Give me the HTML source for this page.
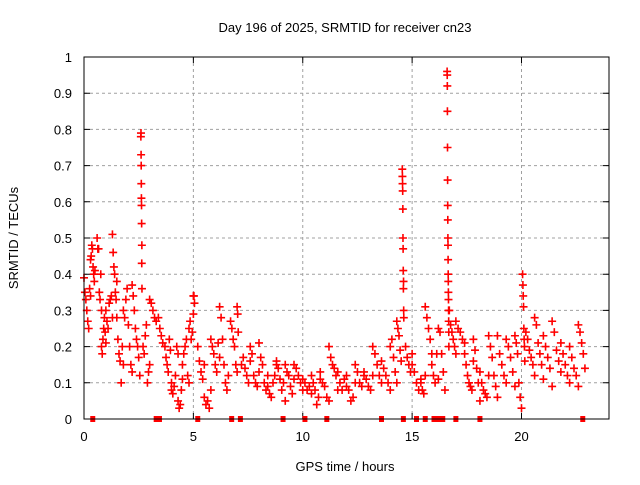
<!DOCTYPE html>
<html><head><meta charset="utf-8"><style>
body{margin:0;background:#fff}
svg text{font-family:"Liberation Sans",sans-serif;font-size:13px;fill:#000}
</style></head><body>
<svg id="chart" width="640" height="480" viewBox="0 0 640 480" xmlns="http://www.w3.org/2000/svg">
<rect width="640" height="480" fill="#fff"/>
<text x="345" y="32" text-anchor="middle">Day 196 of 2025, SRMTID for receiver cn23</text>
<text transform="translate(18,238) rotate(-90)" text-anchor="middle">SRMTID / TECUs</text>
<text x="345" y="471" text-anchor="middle">GPS time / hours</text>
<g id="grid"></g>
<g id="ticks"></g>
<g id="marks"></g>
<rect x="84" y="57" width="525" height="362" fill="none" stroke="#000" stroke-width="1"/>
</svg>
<script>
const xTicks=[0,5,10,15,20];
const yTicks=[0,0.1,0.2,0.3,0.4,0.5,0.6,0.7,0.8,0.9,1];
const yTickLabels=["0","0.1","0.2","0.3","0.4","0.5","0.6","0.7","0.8","0.9","1"];
const clusterStart=[0,0.3,0.6,0.8,1.0,1.3,1.5,1.8,2.2,2.6,2.7,3.0,3.4,3.7,4.0,4.3,4.5,4.8,5.0,5.2,5.5,5.8,6.2,6.7,7.0,7.2,7.6,8.0,8.4,8.8,9.2,9.6,10.0,10.4,10.8,11.2,11.6,12.0,12.4,12.8,13.2,13.6,14.0,14.3,14.55,14.7,15.0,15.4,15.6,15.9,16.2,16.6,16.7,17.0,17.4,17.8,18.1,18.5,18.9,19.3,19.7,20.05,20.2,20.6,21.0,21.4,21.8,22.2,22.6];
const clusterEnd=[0.3,0.5,0.8,1.0,1.3,1.5,1.8,2.2,2.55,2.65,3.0,3.3,3.6,4.0,4.3,4.5,4.8,5.0,5.05,5.5,5.8,6.2,6.6,7.0,7.05,7.6,8.0,8.4,8.8,9.2,9.6,10.0,10.4,10.8,11.2,11.6,12.0,12.4,12.8,13.2,13.6,14.0,14.3,14.5,14.62,15.0,15.4,15.6,15.9,16.2,16.5,16.68,17.0,17.4,17.8,18.1,18.5,18.9,19.3,19.7,20.0,20.15,20.6,21.0,21.4,21.8,22.2,22.6,22.9];
const clusterValues=[
[0.39,0.35,0.33,0.30,0.27,0.25,0.36,0.34],[0.44,0.45,0.48,0.47,0.42,0.40,0.38,0.41],[0.50,0.47,0.47,0.35,0.33,0.40,0.30],
[0.20,0.18,0.22,0.25,0.28,0.24,0.21],[0.30,0.27,0.25,0.32,0.33,0.34,0.28],[0.51,0.46,0.42,0.40,0.35,0.33,0.38],
[0.28,0.22,0.18,0.16,0.10,0.20,0.15],[0.30,0.28,0.33,0.36,0.26,0.20,0.15,0.13],[0.37,0.34,0.30,0.25,0.22,0.20,0.17,0.12],
[0.78,0.79,0.73,0.70,0.65,0.61,0.59,0.54,0.43,0.48,0.36],[0.20,0.18,0.23,0.26,0.10,0.13,0.15],[0.33,0.32,0.30,0.28,0.27],
[0.28,0.25,0.23,0.21],[0.20,0.17,0.15,0.13,0.22,0.19,0.08],[0.10,0.07,0.09,0.12,0.20,0.18],[0.05,0.03,0.04,0.08,0.11],
[0.15,0.18,0.20,0.22,0.12,0.10],[0.25,0.27,0.22,0.24,0.29],[0.34,0.34,0.32],[0.20,0.16,0.13,0.11,0.15],[0.06,0.04,0.05,0.03,0.08],
[0.22,0.20,0.18,0.15,0.13,0.21,0.17],[0.31,0.28,0.22,0.15,0.10,0.08,0.12],[0.27,0.25,0.22,0.20,0.15,0.13],[0.31,0.29,0.24],
[0.15,0.17,0.14,0.12,0.10,0.16],[0.20,0.18,0.12,0.10,0.09,0.13],[0.21,0.17,0.15,0.10,0.08,0.12],[0.09,0.07,0.06,0.10,0.12,0.15],
[0.16,0.14,0.11,0.08,0.10,0.05],[0.15,0.13,0.12,0.09,0.07,0.11],[0.15,0.14,0.12,0.10,0.08],[0.11,0.10,0.08,0.09,0.07],
[0.12,0.10,0.08,0.04,0.06,0.11],[0.13,0.10,0.09,0.06,0.05],[0.20,0.17,0.15,0.14,0.12,0.08],[0.13,0.10,0.08,0.11,0.09],
[0.12,0.08,0.05,0.06,0.10],[0.15,0.13,0.10,0.09,0.12],[0.13,0.11,0.09,0.08,0.12],[0.20,0.18,0.15,0.12,0.10],[0.16,0.14,0.12,0.10,0.08],
[0.20,0.22,0.17,0.13,0.10],[0.27,0.25,0.23,0.19,0.16],[0.69,0.67,0.65,0.63,0.58,0.50,0.47,0.41,0.36,0.38,0.30,0.28],
[0.20,0.17,0.15,0.13,0.18],[0.15,0.13,0.10,0.08,0.11],[0.10,0.08,0.07,0.12],[0.31,0.28,0.25,0.22,0.18],[0.15,0.12,0.10,0.18,0.11],
[0.25,0.24,0.18,0.13,0.08],[0.96,0.95,0.92,0.85,0.75,0.66,0.59,0.55,0.50,0.48,0.44,0.40,0.38,0.35,0.33,0.30,0.27,0.24,0.20],
[0.30,0.26,0.24,0.22,0.20,0.18],[0.27,0.25,0.24,0.22,0.21],[0.18,0.15,0.12,0.10,0.09,0.08,0.16],[0.22,0.19,0.14,0.10,0.05],
[0.13,0.10,0.08,0.07,0.06,0.12],[0.23,0.20,0.17,0.12,0.09,0.06],[0.23,0.18,0.15,0.12,0.10],[0.22,0.20,0.17,0.13,0.09],
[0.23,0.21,0.18,0.10,0.06,0.03],[0.40,0.37,0.34,0.31,0.25,0.22,0.20,0.16],[0.24,0.22,0.19,0.17,0.15,0.12],[0.28,0.26,0.21,0.18,0.15,0.11],
[0.23,0.20,0.17,0.14,0.09],[0.27,0.24,0.19,0.16,0.13],[0.21,0.18,0.15,0.12,0.10],[0.20,0.17,0.14,0.12,0.09],[0.26,0.24,0.21,0.18,0.14]];
const gapHours=[0.4,3.3,3.45,5.2,6.75,7.15,9.1,10.1,11.1,13.6,14.6,15.2,15.6,16.0,16.2,16.4,17.0,18.1,22.8];

const NS="http://www.w3.org/2000/svg";
const X0=84,X1=609,Y0=419,Y1=57,XMAX=24,YMAX=1;
const sx=v=>X0+(X1-X0)*v/XMAX;
const sy=v=>Y0-(Y0-Y1)*v/YMAX;
function mk(tag,attrs,parent){const e=document.createElementNS(NS,tag);for(const k in attrs)e.setAttribute(k,attrs[k]);parent.appendChild(e);return e;}
const grid=document.getElementById('grid'),ticks=document.getElementById('ticks'),marks=document.getElementById('marks');
xTicks.forEach((t,i)=>{
  const x=sx(t);
  if(t>0){const g=mk('line',{x1:x,x2:x,y1:Y1,y2:Y0,stroke:'#a0a0a0','stroke-dasharray':'3,3'},grid);
  
  }
  const tk=mk('path',{d:`M${x},${Y0}v-6M${x},${Y1}v6`,stroke:'#000'},ticks);
  
  
  const lb=mk('text',{x:x,y:Y0+22,'text-anchor':'middle'},ticks);lb.textContent=String(t);
  
  
});
yTicks.forEach((t,i)=>{
  const y=sy(t);
  if(t>0&&t<1){const g=mk('line',{x1:X0,x2:X1,y1:y,y2:y,stroke:'#a0a0a0','stroke-dasharray':'3,3'},grid);
  
  }
  const tk=mk('path',{d:`M${X0},${y}h6M${X1},${y}h-6`,stroke:'#000'},ticks);
  
  
  const lb=mk('text',{x:X0-12,y:y+5,'text-anchor':'end'},ticks);lb.textContent=yTickLabels[i];
  
  
});
clusterValues.forEach((vals,c)=>{
  const a=clusterStart[c],b=clusterEnd[c],n=vals.length;
  vals.forEach((v,j)=>{
    const h=n>1?a+(b-a)*j/(n-1):a;
    const x=sx(h),y=sy(v);
    const p=mk('path',{d:`M${x-4},${y}h8M${x},${y-4}v8`,stroke:'#ff0000','stroke-width':1.6},marks);
    
    
  });
});
gapHours.forEach(h=>{
  const r=mk('rect',{x:sx(h)-2.5,y:Y0-3,width:5,height:6,fill:'#ff0000'},marks);
  
  
});
</script>
</body></html>
